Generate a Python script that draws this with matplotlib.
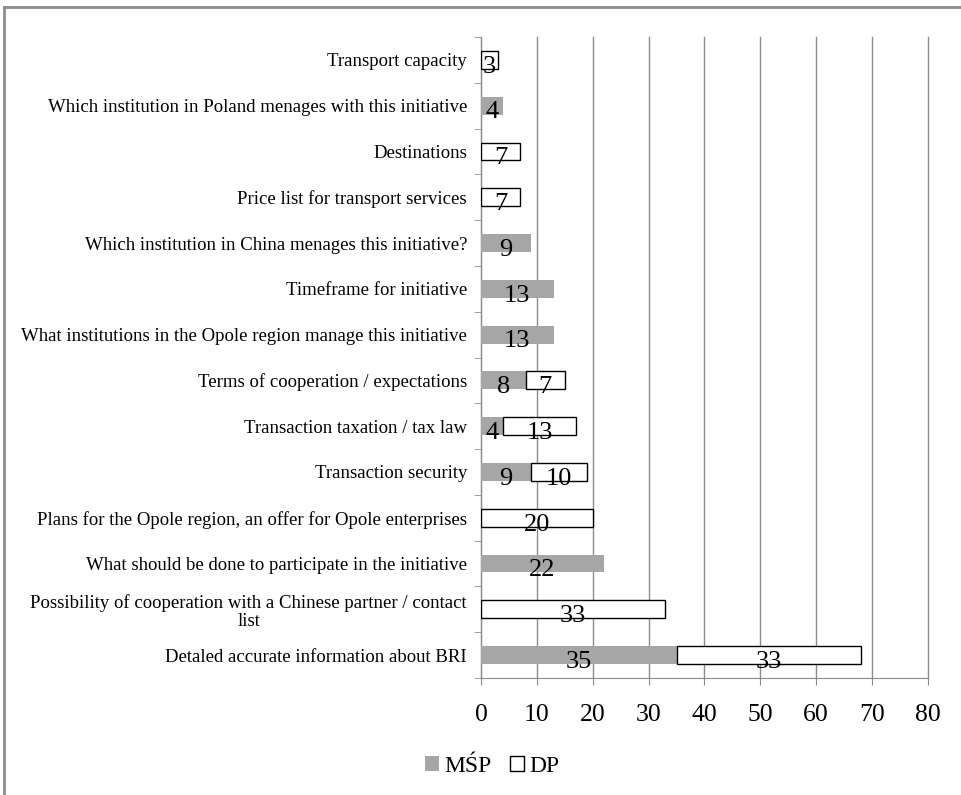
import matplotlib.pyplot as plt
import numpy as np

plt.rcParams['font.family'] = ['Liberation Serif', 'DejaVu Serif']

# survey answers, listed top to bottom
categories = [
    "Transport capacity",
    "Which institution in Poland menages with this initiative",
    "Destinations",
    "Price list for transport services",
    "Which institution in China menages this initiative?",
    "Timeframe for initiative",
    "What institutions in the Opole region manage this initiative",
    "Terms of cooperation / expectations",
    "Transaction taxation / tax law",
    "Transaction security",
    "Plans for the Opole region, an offer for Opole enterprises",
    "What should be done to participate in the initiative",
    "Possibility of cooperation with a Chinese partner / contact\nlist",
    "Detaled accurate information about BRI",
]
msp = [0, 4, 0, 0, 9, 13, 13, 8, 4, 9, 0, 22, 0, 35]
dp = [3, 0, 7, 7, 0, 0, 0, 7, 13, 10, 20, 0, 33, 33]
series_names = ["MŚP", "DP"]
x_ticks = [0, 10, 20, 30, 40, 50, 60, 70, 80]

GRAY = "#a6a6a6"
LINE = "#8c8c8c"

fig = plt.figure(figsize=(9.61, 7.95), dpi=100)
ax = fig.add_axes([481 / 961, 1 - 678 / 795, 447 / 961, 641 / 795])

y = np.arange(len(categories))
msp = np.array(msp)
dp = np.array(dp)
h = 0.39

ax.barh(y, msp, height=h, color=GRAY, edgecolor="none", label=series_names[0], zorder=3)
# empty DP entries get no outline
dp_lw = [1.0 if v > 0 else 0 for v in dp]
ax.barh(y, dp, left=msp, height=h, color="white", edgecolor="black",
        linewidth=dp_lw, label=series_names[1], zorder=3)

# value labels inside the bars
for i in range(len(categories)):
    if msp[i] > 0:
        ax.text(msp[i] / 2, y[i] + 0.28, str(msp[i]), ha="center", va="baseline",
                fontsize=19, zorder=4)
    if dp[i] > 0:
        ax.text(msp[i] + dp[i] / 2, y[i] + 0.28, str(dp[i]), ha="center", va="baseline",
                fontsize=19, zorder=4)

ax.set_xlim(0, 80)
ax.set_ylim(len(categories) - 0.5, -0.5)
ax.set_xticks(x_ticks)
ax.tick_params(axis="x", labelsize=18.5, length=5, color=LINE, pad=14)

ax.set_yticks(y)
ax.set_yticklabels(categories, fontsize=13.5, multialignment="center",
                   linespacing=1.1)
ax.tick_params(axis="y", which="major", length=0, pad=10)
ax.set_yticks(np.arange(len(categories) + 1) - 0.5, minor=True)
ax.tick_params(axis="y", which="minor", length=5, color=LINE)

ax.grid(axis="x", color=LINE, linewidth=1.0, zorder=0)
for gl in ax.get_xgridlines():
    gl.set_clip_on(False)
for s in ["top", "right"]:
    ax.spines[s].set_visible(False)
for s in ["left", "bottom"]:
    ax.spines[s].set_color(LINE)

leg = ax.legend(loc="center", bbox_to_anchor=(492 / 961, 1 - 766 / 795),
                bbox_transform=fig.transFigure, ncol=2, frameon=False, fontsize=17,
                handlelength=0.6, handleheight=0.6, handletextpad=0.2, columnspacing=0.8)
for patch in leg.get_patches():
    patch.set_linewidth(1.0)

# outer chart frame
fig.add_artist(plt.Line2D([4 / 961, 4 / 961], [0, 1 - 7 / 795], color=LINE, linewidth=2,
                          transform=fig.transFigure))
fig.add_artist(plt.Line2D([4 / 961, 1], [1 - 7 / 795, 1 - 7 / 795], color=LINE, linewidth=2,
                          transform=fig.transFigure))

fig.savefig("out.png", dpi=100, facecolor="white")
